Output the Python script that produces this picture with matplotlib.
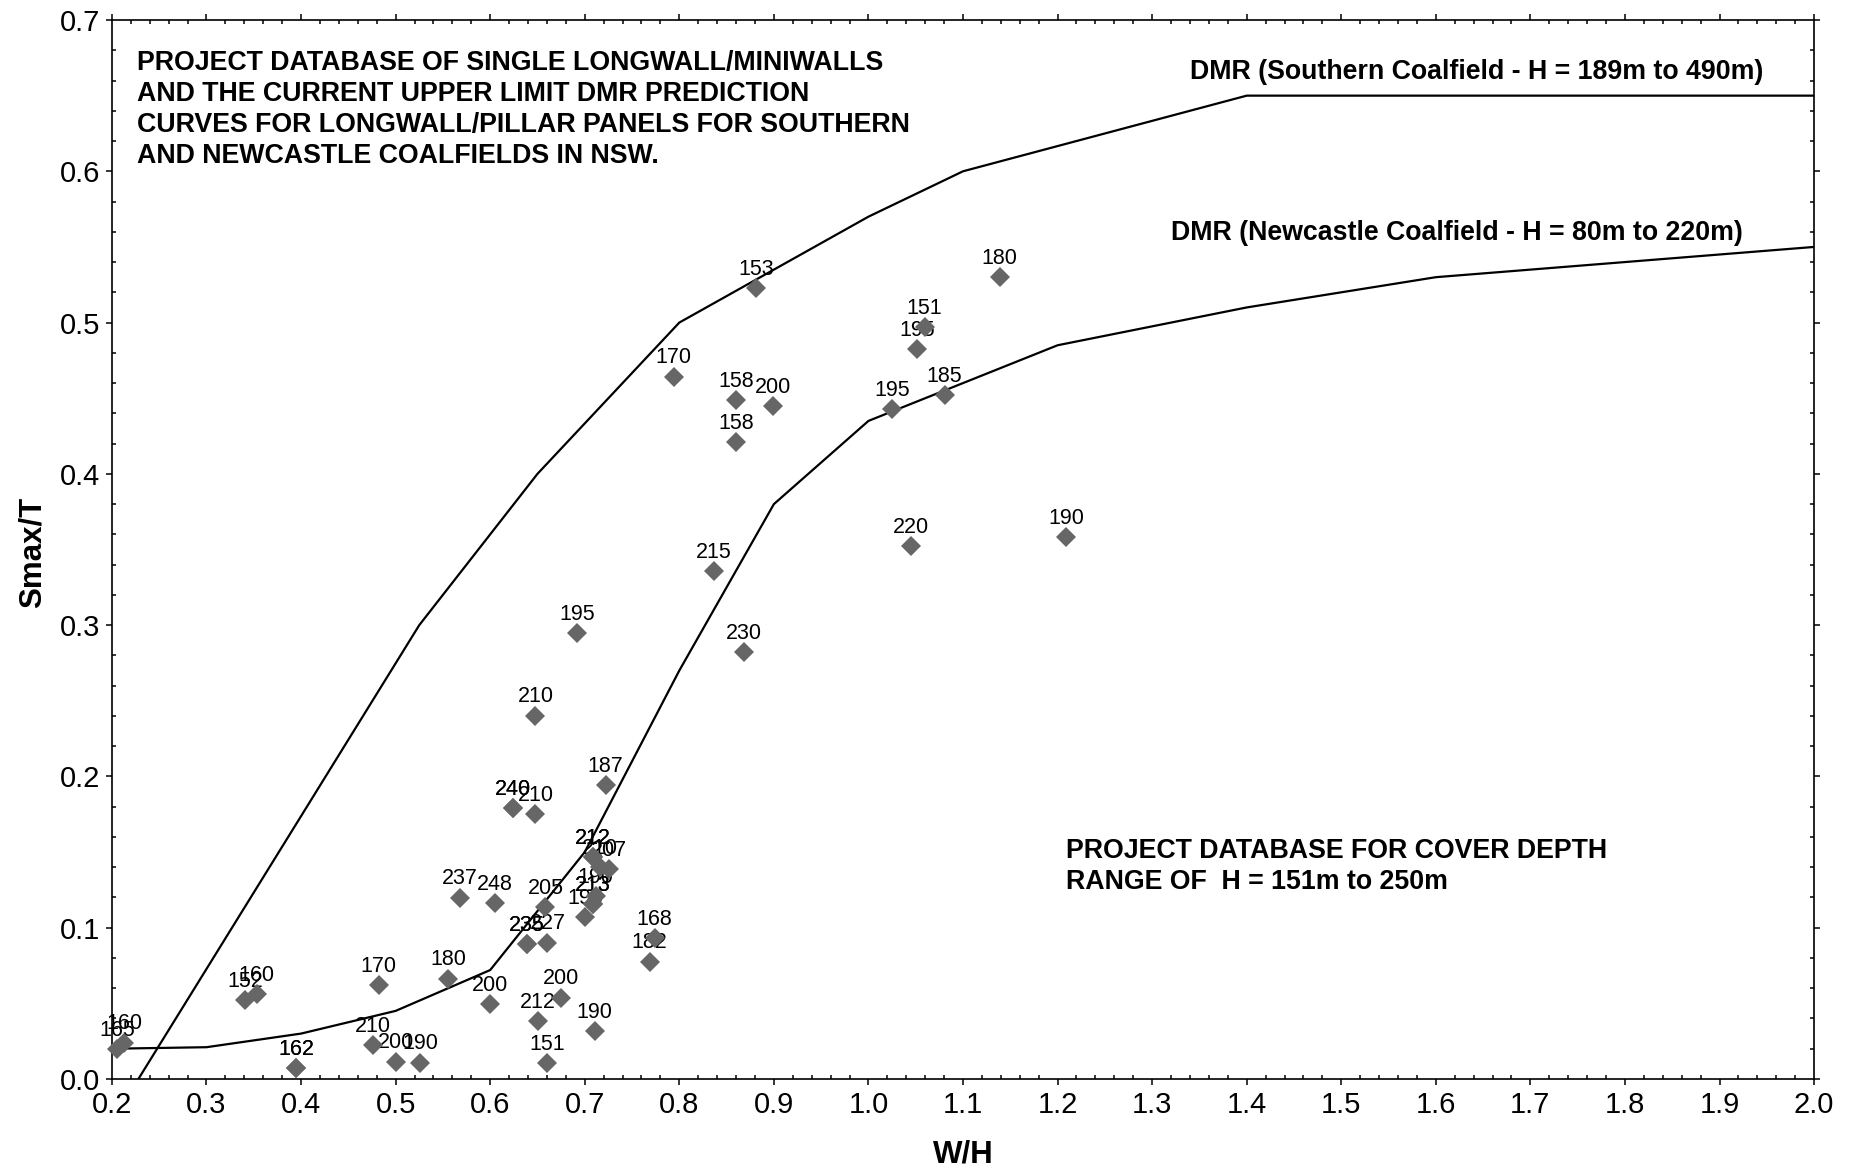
import matplotlib
matplotlib.use("Agg")
import matplotlib.pyplot as plt
from matplotlib.ticker import MultipleLocator

plt.rcParams['font.family'] = ['Liberation Sans', 'DejaVu Sans']

# DMR upper limit prediction curves
south_x = [0.228, 0.525, 0.65, 0.8, 1.0, 1.1, 1.4, 2.0]
south_y = [0.0, 0.30, 0.40, 0.50, 0.57, 0.60, 0.65, 0.65]
newc_x = [0.2, 0.3, 0.4, 0.5, 0.6, 0.7, 0.8, 0.9, 1.0, 1.1, 1.2, 1.4, 1.6, 2.0]
newc_y = [0.020, 0.021, 0.030, 0.045, 0.072, 0.150, 0.270, 0.380, 0.435,
          0.460, 0.485, 0.510, 0.530, 0.550]

# project database: W/H, Smax/T and cover depth H (m)
wh = [0.2056, 0.2127, 0.3406, 0.3530, 0.3950, 0.3950, 0.4822, 0.4756, 0.4999,
      0.5263, 0.5555, 0.5999, 0.5680, 0.6049, 0.6242, 0.6242, 0.6479, 0.6479,
      0.6915, 0.6584, 0.6384, 0.6384, 0.6606, 0.6507, 0.6753, 0.6598, 0.7106,
      0.7222, 0.7088, 0.7088, 0.7159, 0.7258, 0.7116, 0.7088, 0.7088, 0.7000,
      0.7687, 0.7740, 0.7939, 0.8367, 0.8687, 0.8603, 0.8603, 0.8995, 0.8812,
      1.0249, 1.0446, 1.0513, 1.0594, 1.0806, 1.1387, 1.2092]
smax_t = [0.0197, 0.0240, 0.0521, 0.0563, 0.0071, 0.0071, 0.0620, 0.0223, 0.0115,
          0.0108, 0.0664, 0.0496, 0.1199, 0.1160, 0.1789, 0.1789, 0.1752, 0.2402,
          0.2948, 0.1134, 0.0891, 0.0891, 0.0902, 0.0384, 0.0538, 0.0104, 0.0318,
          0.1944, 0.1465, 0.1465, 0.1403, 0.1388, 0.1211, 0.1156, 0.1156, 0.1068,
          0.0776, 0.0931, 0.4643, 0.3357, 0.2823, 0.4487, 0.4209, 0.4447, 0.5229,
          0.4430, 0.3521, 0.4825, 0.4972, 0.4518, 0.5303, 0.3580]
depth = [165, 160, 152, 160, 162, 162, 170, 210, 200,
         190, 180, 200, 237, 248, 240, 240, 210, 210,
         195, 205, 235, 235, 227, 212, 200, 151, 190,
         187, 212, 212, 210, 207, 190, 213, 213, 193,
         182, 168, 170, 215, 230, 158, 158, 200, 153,
         195, 220, 195, 151, 185, 180, 190]

fig = plt.figure(figsize=(18.5, 11.7), dpi=100)
ax = fig.add_axes([0.0605, 0.0778, 0.9201, 0.9051])

ax.plot(south_x, south_y, color='black', lw=1.6, zorder=1)
ax.plot(newc_x, newc_y, color='black', lw=1.6, zorder=1)

for x, y, h in zip(wh, smax_t, depth):
    ax.annotate(str(h), (x, y), xytext=(0, 9.5), textcoords='offset points',
                ha='center', va='baseline', fontsize=15.5, zorder=2)
ax.plot(wh, smax_t, linestyle='none', marker='D', markersize=10.5,
        color='#666666', markeredgewidth=0, zorder=3, clip_on=False)

ax.set_xlim(0.2, 2.0)
ax.set_ylim(0.0, 0.7)
ax.xaxis.set_major_locator(MultipleLocator(0.1))
ax.xaxis.set_minor_locator(MultipleLocator(0.02))
ax.yaxis.set_major_locator(MultipleLocator(0.1))
ax.yaxis.set_minor_locator(MultipleLocator(0.02))
ax.xaxis.set_major_formatter(lambda v, p: f"{v:.1f}")
ax.yaxis.set_major_formatter(lambda v, p: f"{v:.1f}")
ax.tick_params(which='major', direction='out', length=4.5, width=1.1,
               top=True, right=True, labelsize=21, pad=4)
ax.tick_params(which='minor', direction='in', length=3, width=1.1,
               top=True, right=True)
for s in ax.spines.values():
    s.set_linewidth(1.2)

ax.set_xlabel('W/H', fontsize=22.5, fontweight='bold')
ax.set_ylabel('Smax/T', fontsize=22.5, fontweight='bold')
ax.xaxis.set_label_coords(0.5, -0.0715)
ax.xaxis.label.set_va('center')
ax.yaxis.set_label_coords(-0.0466, 0.497)
ax.yaxis.label.set_va('center')

ax.text(0.0147, 0.972,
        'PROJECT DATABASE OF SINGLE LONGWALL/MINIWALLS\n'
        'AND THE CURRENT UPPER LIMIT DMR PREDICTION\n'
        'CURVES FOR LONGWALL/PILLAR PANELS FOR SOUTHERN\n'
        'AND NEWCASTLE COALFIELDS IN NSW.',
        transform=ax.transAxes, ha='left', va='top', fontsize=19.3,
        fontweight='bold', linespacing=1.25)
ax.text(1763, 1170 - 72, 'DMR (Southern Coalfield - H = 189m to 490m)',
        transform=None, ha='right', va='center', fontsize=19.3, fontweight='bold')
ax.text(1743, 1170 - 233, 'DMR (Newcastle Coalfield - H = 80m to 220m)',
        transform=None, ha='right', va='center', fontsize=19.3, fontweight='bold')
ax.text(1066, 1170 - 838, 'PROJECT DATABASE FOR COVER DEPTH\nRANGE OF  H = 151m to 250m',
        transform=None, ha='left', va='top', fontsize=19.3, fontweight='bold',
        linespacing=1.25)

fig.savefig('out.png', dpi=100)
